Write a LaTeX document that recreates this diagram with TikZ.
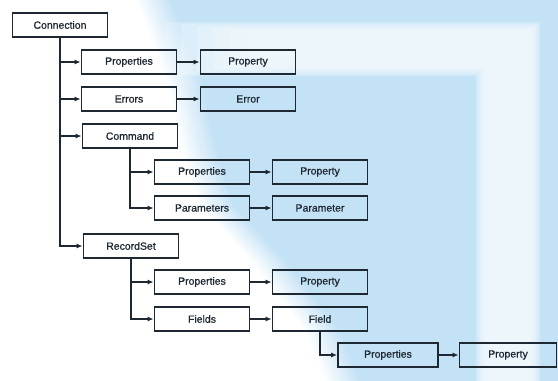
\documentclass[tikz,border=0pt]{standalone}
\usepackage{fontspec}
\setmainfont{Liberation Sans}
\newfontfamily\boxfont[FakeBold=0.8]{Liberation Sans}
\usetikzlibrary{arrows.meta}
\definecolor{bgblue}{RGB}{196,226,246}
\definecolor{ink}{RGB}{30,40,50}
\definecolor{paper}{RGB}{244,250,253}
\begin{document}
\begin{tikzpicture}[x=1bp,y=-1bp,
  obj/.style={draw=ink, line width=1.8bp, minimum width=95bp, minimum height=24bp,
    inner sep=0pt, text=ink, font=\boxfont\fontsize{10.5}{12}\selectfont},
  link/.style={draw=ink, line width=1.8bp, -{Latex[length=6bp,width=5bp]}}]

% backdrop: white sheet, a soft-edged blue field, and a pale L-shaped band
\useasboundingbox (0,0) rectangle (558,380);
\begin{scope}
  \clip (0,0) rectangle (558,380);
  \fill[white] (0,0) rectangle (558,380);
  \foreach \k in {0,...,11} {
    \pgfmathsetmacro\pct{100*(\k+1)/12}
    \fill[bgblue!\pct!white, xshift=\k*3bp]
      (135,-5) -- (168,80) -- (183,150) -- (200,205) -- (250,258)
      -- (306,330) -- (328,385) -- (600,385) -- (600,-5) -- cycle;
  }
  \foreach \k in {0,...,5} {
    \pgfmathsetmacro\d{2*\k}
    \fill[paper, opacity=0.3]
      (165+8*\d,22+\d) -- (540-\d,22+\d) -- (540-\d,385) -- (476+\d,385)
      -- (476+\d,76-\d) -- (165+8*\d,76-\d) -- cycle;
  }
\end{scope}

% object model boxes
\node[obj] (conn)   at (60,25)   {Connection};
\node[obj] (props1) at (129,62)  {Properties};
\node[obj] (prop1)  at (248,62)  {Property};
\node[obj] (errs)   at (129,99)  {Errors};
\node[obj] (err)    at (248,99)  {Error};
\node[obj] (cmd)    at (130,136) {Command};
\node[obj] (cprops) at (202,172) {Properties};
\node[obj] (cprop)  at (320,172) {Property};
\node[obj] (params) at (202,208) {Parameters};
\node[obj] (param)  at (320,208) {Parameter};
\node[obj] (rs)     at (131,246) {RecordSet};
\node[obj] (rprops) at (202,282) {Properties};
\node[obj] (rprop)  at (320,282) {Property};
\node[obj] (fields) at (202,319) {Fields};
\node[obj] (field)  at (320,319) {Field};
\node[obj, minimum width=100bp] (fprops) at (388,355) {Properties};
\node[obj, minimum width=97bp]  (fprop)  at (508,355) {Property};

% containment links
\draw[link] (conn.south) |- (props1.west);
\draw[link] (conn.south) |- (errs.west);
\draw[link] (conn.south) |- (cmd.west);
\draw[link] (conn.south) |- (rs.west);
\draw[link] (props1.east) -- (prop1.west);
\draw[link] (errs.east) -- (err.west);

\draw[link] (cmd.south) |- (cprops.west);
\draw[link] (cmd.south) |- (params.west);
\draw[link] (cprops.east) -- (cprop.west);
\draw[link] (params.east) -- (param.west);

\draw[link] (rs.south) |- (rprops.west);
\draw[link] (rs.south) |- (fields.west);
\draw[link] (rprops.east) -- (rprop.west);
\draw[link] (fields.east) -- (field.west);

\draw[link] (field.south) |- (fprops.west);
\draw[link] (fprops.east) -- (fprop.west);
\end{tikzpicture}
\end{document}
